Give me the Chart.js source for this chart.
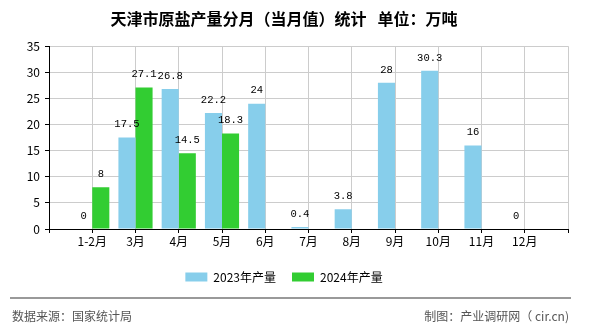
<!DOCTYPE html>
<html>
<head>
<meta charset="utf-8">
<script src="https://cdn.jsdelivr.net/npm/chart.js@4.4.1/dist/chart.umd.min.js"></script>
<style>
  body { margin: 0; background: #fff; }
  #wrap { position: relative; width: 590px; height: 330px; }
  #foot { position: absolute; left: 10px; top: 297px; width: 561px; height: 30px;
          border-top: 2px solid #999; font: 12px "Noto Sans CJK SC", sans-serif; color: #555; }
  #foot .l { position: absolute; left: 2px; top: 8px; }
  #foot .r { position: absolute; right: 2px; top: 8px; }
</style>
</head>
<body>
<div id="wrap">
  <canvas id="c" width="590" height="330"></canvas>
  <div id="foot"><span class="l">数据来源：国家统计局</span><span class="r">制图：产业调研网（ cir.cn)</span></div>
</div>
<script>
const months = ['1-2月', '3月', '4月', '5月', '6月', '7月', '8月', '9月', '10月', '11月', '12月'];
const prod2023 = [0, 17.5, 26.8, 22.2, 24, 0.4, 3.8, 28, 30.3, 16, 0];
const prod2024 = [8, 27.1, 14.5, 18.3];
const yTicks = [0, 5, 10, 15, 20, 25, 30, 35];

// one empty slot on each side so the months sit on the grid lines
const pad = arr => [null, ...arr, ...Array(months.length - arr.length).fill(null), null];
const labels = ['', ...months, ''];

const cjk = '"Noto Sans CJK SC", sans-serif';

const valueLabels = {
  id: 'valueLabels',
  afterDatasetsDraw(chart) {
    const ctx = chart.ctx;
    ctx.save();
    ctx.font = '10.5px "Liberation Mono", monospace';
    ctx.fillStyle = '#000';
    ctx.textAlign = 'center';
    ctx.textBaseline = 'middle';
    chart.data.datasets.forEach((ds, i) => {
      chart.getDatasetMeta(i).data.forEach((bar, j) => {
        const v = ds.data[j];
        if (v === null || v === undefined) return;
        ctx.fillText(String(v), bar.x, bar.y - 13);
      });
    });
    ctx.restore();
  }
};

new Chart(document.getElementById('c'), {
  type: 'bar',
  data: {
    labels: labels,
    datasets: [
      { label: '2023年产量', data: pad(prod2023), backgroundColor: '#87CEEB' },
      { label: '2024年产量', data: pad(prod2024), backgroundColor: '#32CD32' }
    ]
  },
  options: {
    responsive: false,
    animation: false,
    layout: { padding: { left: 0, right: 22, bottom: 37 } },
    datasets: { bar: { barPercentage: 1, categoryPercentage: 0.79 } },
    plugins: {
      title: {
        display: true,
        text: '天津市原盐产量分月（当月值）统计   单位：万吨',
        color: '#000',
        font: { family: cjk, size: 16, weight: 'bold' },
        padding: { top: 9, bottom: 18 }
      },
      legend: {
        position: 'bottom',
        labels: {
          boxWidth: 22, boxHeight: 9, padding: 16,
          color: '#000',
          font: { family: cjk, size: 12 }
        }
      },
      tooltip: { enabled: false }
    },
    scales: {
      x: {
        offset: false,
        grid: { color: '#ccc', tickColor: '#000', tickLength: 4, offset: false },
        border: { color: '#000' },
        ticks: { color: '#000', font: { family: cjk, size: 12 }, autoSkip: false, maxRotation: 0, padding: 1 },
        afterFit: s => { s.height = 26; }
      },
      y: {
        min: 0, max: 35,
        afterBuildTicks: s => { s.ticks = yTicks.map(v => ({ value: v })); },
        grid: { color: '#ccc', tickColor: '#000', tickLength: 4 },
        border: { color: '#000' },
        ticks: { color: '#000', font: { family: cjk, size: 12 }, padding: 5 },
        afterFit: s => { s.width = 49; }
      }
    }
  },
  plugins: [valueLabels]
});
</script>
</body>
</html>
